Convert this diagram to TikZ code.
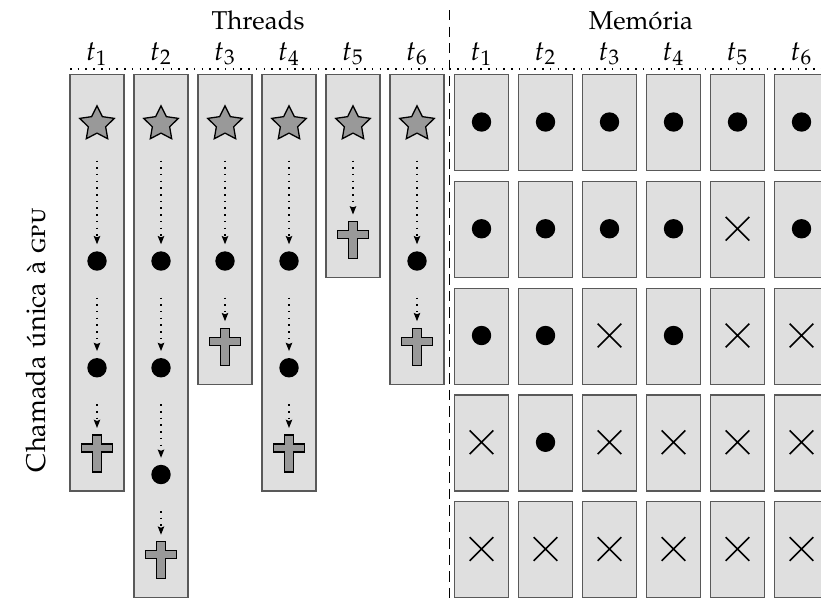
\documentclass[tikz,border=0pt]{standalone}
\usepackage[T1]{fontenc}
\usepackage[sc]{mathpazo}
\usetikzlibrary{shapes.geometric,shapes.misc,arrows.meta}
\tikzset{
  box/.style={draw=black!65, line width=0.5pt, fill=gray!25, minimum width=20.93pt, inner sep=0pt, anchor=north},
  startsym/.style={star, star points=5, star point ratio=2.0, minimum size=14.11pt, inner sep=0pt, fill=gray!80, draw=black, line width=0.5pt},
  symd/.style={circle, fill=black, minimum size=7.52pt, inner sep=0pt},
  symx/.style={cross out, draw=black, line width=0.6pt, minimum size=8.53pt, inner sep=0pt},
  endsym/.style={rectangle, minimum width=12.02pt, minimum height=14.34pt, inner sep=0pt},
  flow/.style={dash pattern=on 0.6pt off 2pt, line width=0.5pt, -{Stealth[length=3.2pt,width=2.5pt,inset=0.5pt]}, shorten <=14.15pt, shorten >=2.52pt},
  sep/.style={dash pattern=on 0.6pt off 2.4pt, line width=0.5pt},
  vsep/.style={dash pattern=on 4pt off 2.4pt, line width=0.5pt},
  lab/.style={anchor=base, inner sep=0pt},
  tlab/.style={anchor=base, inner sep=0pt, scale=1.08},
  pics/gcross/.style={code={\draw[fill=gray!80, draw=black, line width=0.5pt] (-4.5,-18.5) -- (4.5,-18.5) -- (4.5,-9.5) -- (15.5,-9.5) -- (15.5,-1.5) -- (4.5,-1.5) -- (4.5,18.5) -- (-4.5,18.5) -- (-4.5,-1.5) -- (-15.5,-1.5) -- (-15.5,-9.5) -- (-4.5,-9.5) -- cycle;}}
}
\begin{document}
\begin{tikzpicture}[x=0.3876pt, y=-0.3876pt]
\useasboundingbox (0,0) rectangle (821,601);
\clip (0,0) rectangle (821,601);

% titles
\node[lab] (thr) at (258,29) {Threads};
\node[lab] (mem) at (641,29) {Mem\'oria};
\node[lab, rotate=90, scale=1.05] (vlab) at (45,340) {Chamada \'unica \`a \textsc{gpu}};

% separators
\coordinate (hl) at (70,69);
\coordinate (hr) at (821,69);
\draw[sep] (hl) -- (hr);
\coordinate (vt) at (449.3,10);
\coordinate (vb) at (449.3,598);
\draw[vsep] (vt) -- (vb);

% thread boxes and labels
\foreach \c/\h in {1/416.25, 2/523, 3/309.5, 4/416.25, 5/202.75, 6/309.5} {
  \node[box, minimum height=\h*0.3876pt] (T\c) at ({97+64*(\c-1)},74) {};
  \node[tlab] (lt\c) at ({97+64*(\c-1)},60) {$t_{\c}$};
  \node[startsym] (s\c) at ({97+64*(\c-1)},124) {};
}

% memory grid
\foreach \syms [count=\r] in {{d,d,d,d,d,d},{d,d,d,d,x,d},{d,d,x,d,x,x},{x,d,x,x,x,x},{x,x,x,x,x,x}} {
  \foreach \s [count=\c] in \syms {
    \pgfmathsetmacro\cx{481.5+64*(\c-1)}
    \pgfmathsetmacro\cy{74+106.75*(\r-1)}
    \node[box, minimum height=37.21pt] (M-\r-\c) at (\cx,\cy) {};
    \node[sym\s] (m-\r-\c) at (\cx,\cy+48) {};
  }
}
\foreach \c in {1,...,6} {
  \node[tlab] (lm\c) at ({481.5+64*(\c-1)},60) {$t_{\c}$};
}

% thread symbols
\node[symd] (d12) at (97,261) {};
\node[symd] (d13) at (97,367.75) {};
\node[endsym] (c14) at (97,453.5) {};
\node[symd] (d22) at (161,261) {};
\node[symd] (d23) at (161,367.75) {};
\node[symd] (d24) at (161,474.5) {};
\node[endsym] (c25) at (161,560.25) {};
\node[symd] (d32) at (225,261) {};
\node[endsym] (c33) at (225,346.75) {};
\node[symd] (d42) at (289,261) {};
\node[symd] (d43) at (289,367.75) {};
\node[endsym] (c44) at (289,453.5) {};
\node[endsym] (c52) at (353,240) {};
\node[symd] (d62) at (417,261) {};
\node[endsym] (c63) at (417,346.75) {};
\foreach \n in {c14,c25,c33,c44,c52,c63} { \pic at (\n) {gcross}; }

% flows
\draw[flow] (s1.center) -- (d12.north);
\draw[flow] (d12.center) -- (d13.north);
\draw[flow] (d13.center) -- (c14.north);
\draw[flow] (s2.center) -- (d22.north);
\draw[flow] (d22.center) -- (d23.north);
\draw[flow] (d23.center) -- (d24.north);
\draw[flow] (d24.center) -- (c25.north);
\draw[flow] (s3.center) -- (d32.north);
\draw[flow] (d32.center) -- (c33.north);
\draw[flow] (s4.center) -- (d42.north);
\draw[flow] (d42.center) -- (d43.north);
\draw[flow] (d43.center) -- (c44.north);
\draw[flow] (s5.center) -- (c52.north);
\draw[flow] (s6.center) -- (d62.north);
\draw[flow] (d62.center) -- (c63.north);
\end{tikzpicture}
\end{document}
